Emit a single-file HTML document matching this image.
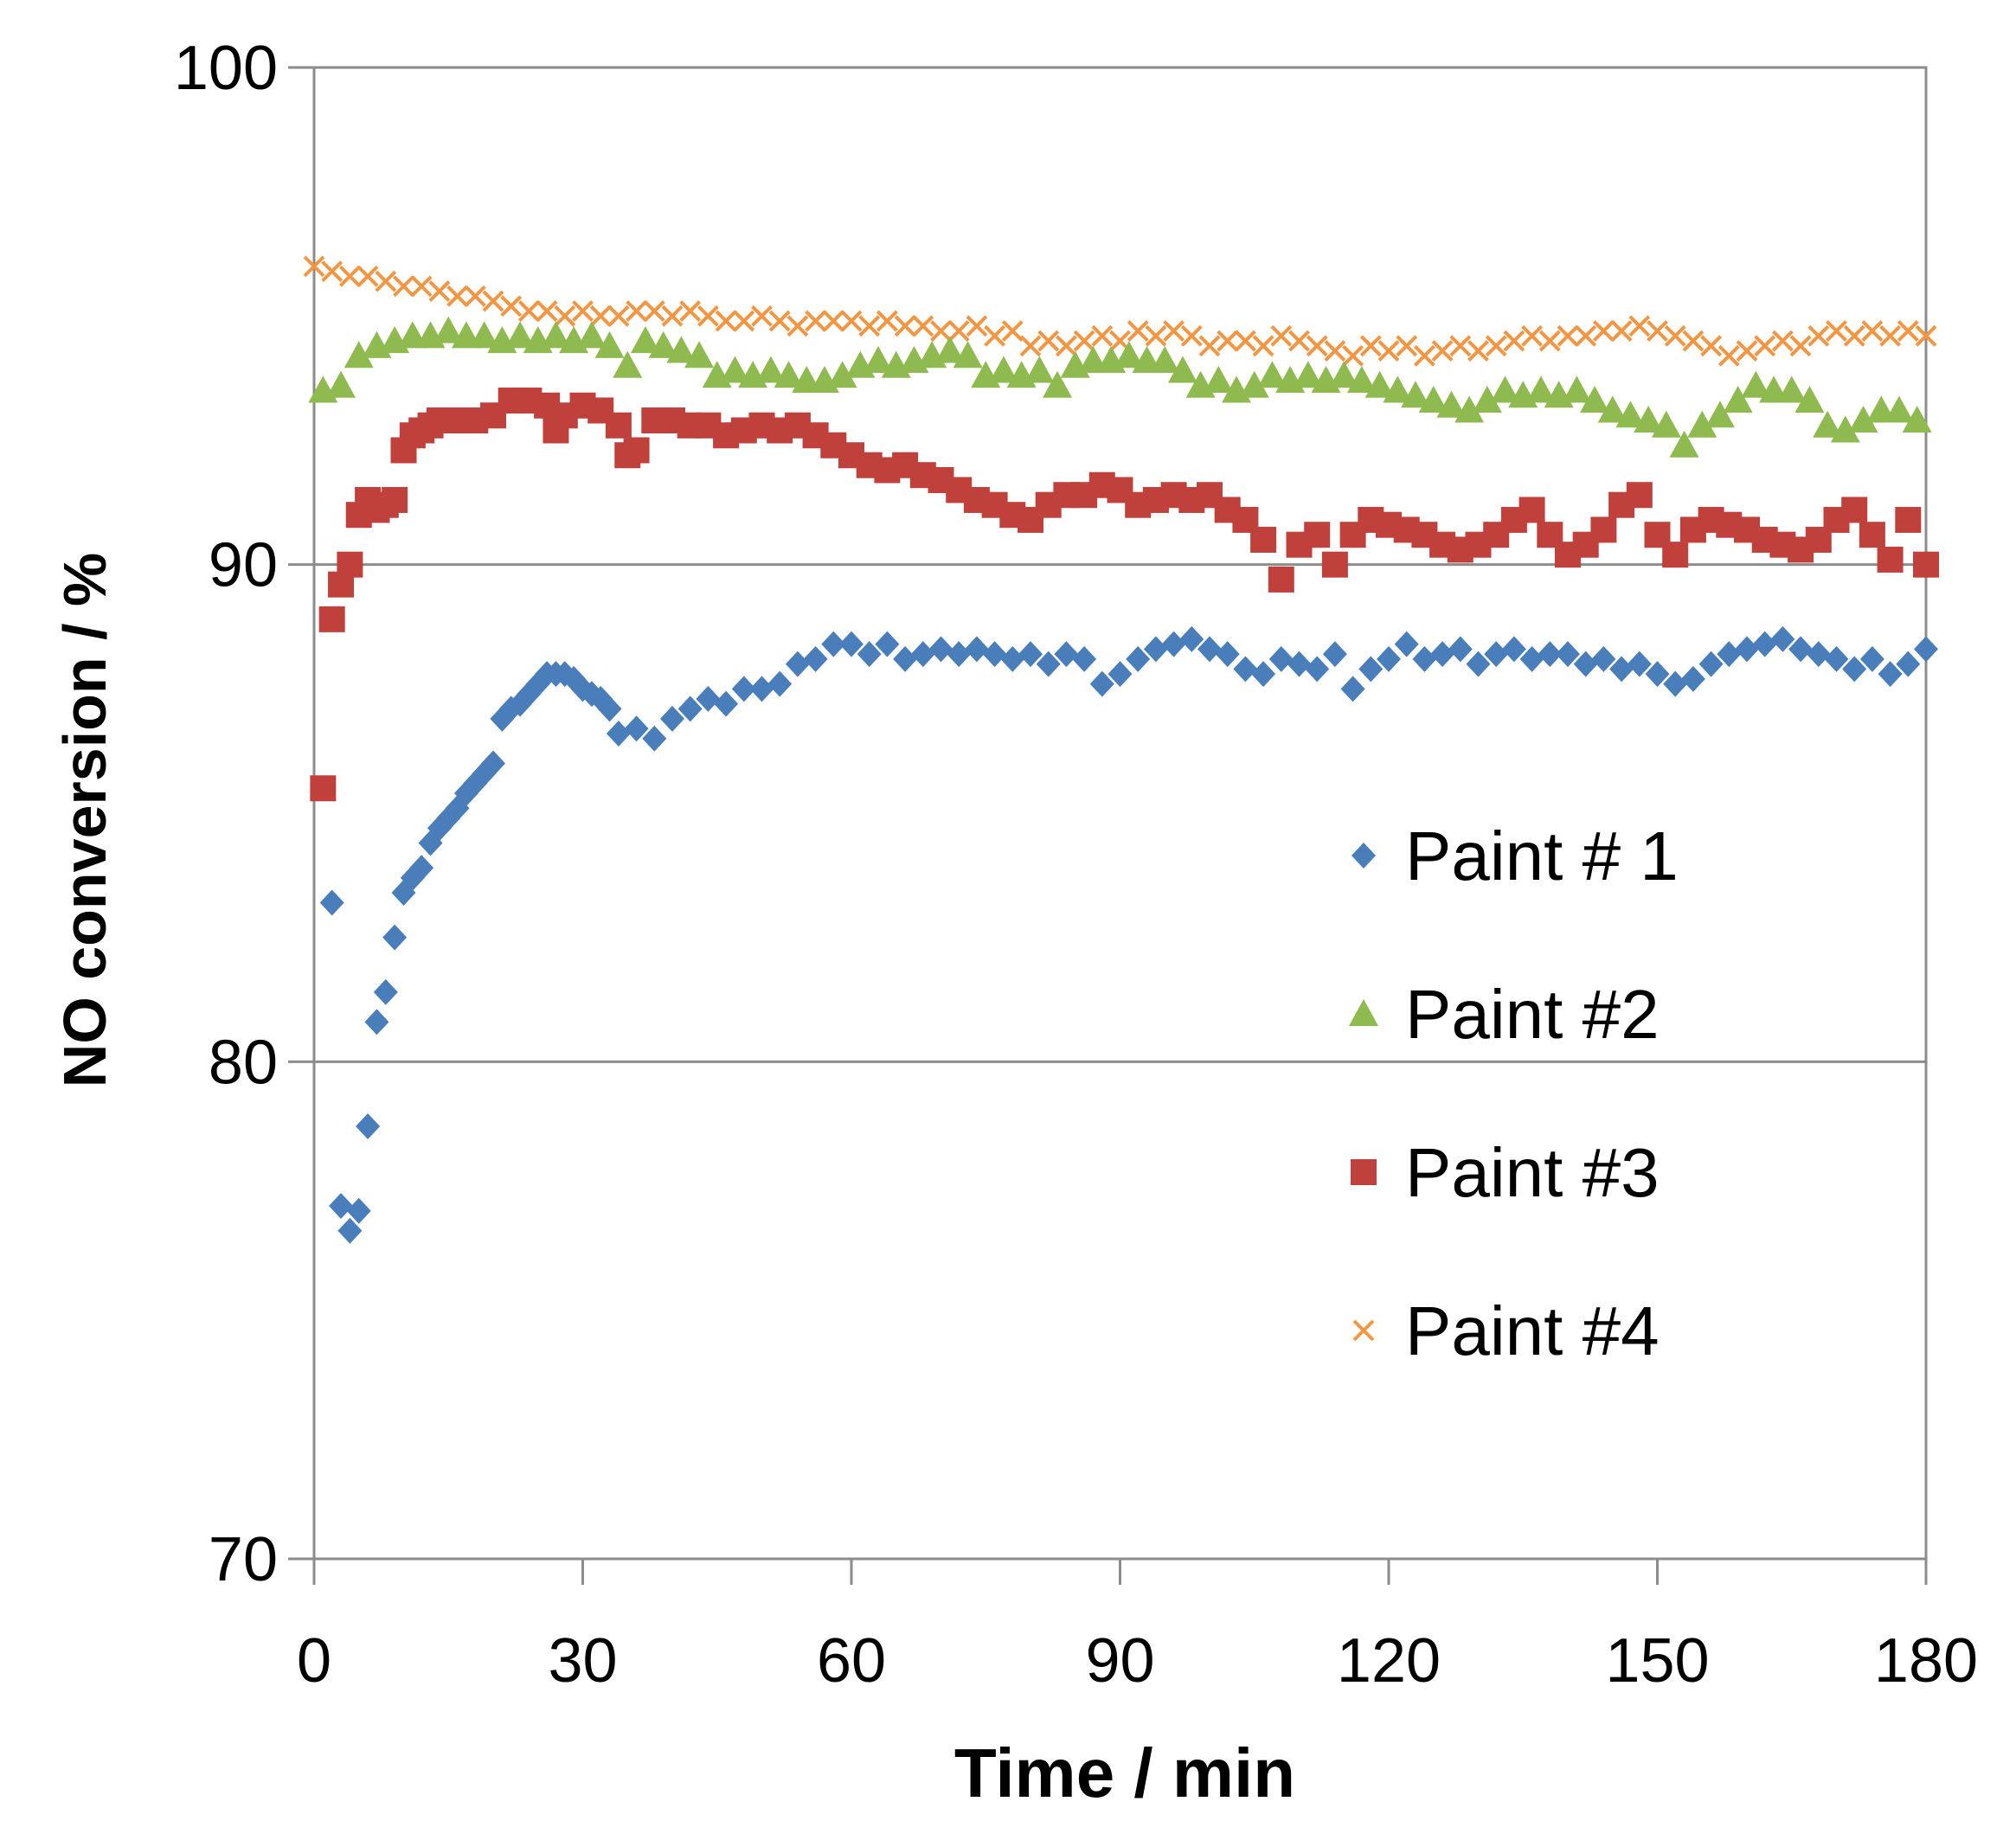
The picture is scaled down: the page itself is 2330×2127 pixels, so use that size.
<!DOCTYPE html>
<html><head><meta charset="utf-8">
<style>
html,body{margin:0;padding:0;background:#fff;}
svg{display:block;}
text{font-family:"Liberation Sans",sans-serif;fill:#000;}
</style></head>
<body>
<svg id="chart" width="2330" height="2127" viewBox="0 0 2330 2127" xmlns="http://www.w3.org/2000/svg">
<g id="grid"></g>
<g id="axes"></g>
<g id="marks"></g>
<text transform="translate(122,948) rotate(-90)" text-anchor="middle" font-size="70" font-weight="bold">NO conversion / %</text>
<text x="1300" y="2077" text-anchor="middle" font-size="80" font-weight="bold">Time / min</text>
<g id="legend"></g>
</svg>
<script>
const xTicks=[0,30,60,90,120,150,180];
const yTicks=[70,80,90,100];
const blueEarlyT=[2,3,4,5,6,7,8,9,10,11,12,13,14,15,16,17,18,19,20,21,22,23,24,25,26,27,28,29,30,31,32,33,34];
const blueEarlyV=[83.2,77.1,76.6,77.0,78.7,80.8,81.4,82.5,83.4,83.7,83.9,84.4,84.7,84.9,85.1,85.4,85.6,85.8,86.0,86.9,87.1,87.2,87.4,87.6,87.8,87.8,87.8,87.7,87.5,87.4,87.3,87.1,86.6];
const blueLateV=[86.7,86.5,86.9,87.1,87.3,87.2,87.5,87.5,87.6,88.0,88.1,88.4,88.4,88.2,88.4,88.1,88.2,88.3,88.2,88.3,88.2,88.1,88.2,88.0,88.2,88.1,87.6,87.8,88.1,88.3,88.4,88.5,88.3,88.2,87.9,87.8,88.1,88.0,87.9,88.2,87.5,87.9,88.1,88.4,88.1,88.2,88.3,88.0,88.2,88.3,88.1,88.2,88.2,88.0,88.1,87.9,88.0,87.8,87.6,87.7,88.0,88.2,88.3,88.4,88.5,88.3,88.2,88.1,87.9,88.1,87.8,88.0,88.3];
const greenV=[93.5,93.6,94.2,94.4,94.5,94.6,94.6,94.7,94.6,94.6,94.5,94.6,94.5,94.6,94.5,94.6,94.4,94.0,94.5,94.4,94.3,94.2,93.8,93.9,93.8,93.9,93.8,93.7,93.7,93.8,94.0,94.1,94.0,94.1,94.2,94.3,94.2,93.8,93.9,93.8,93.9,93.6,94.0,94.1,94.1,94.2,94.1,94.1,93.9,93.6,93.7,93.5,93.6,93.8,93.7,93.8,93.7,93.8,93.7,93.6,93.5,93.4,93.3,93.2,93.1,93.3,93.5,93.4,93.5,93.4,93.5,93.3,93.1,93.0,92.9,92.8,92.4,92.8,93.0,93.3,93.6,93.5,93.5,93.3,92.8,92.7,92.9,93.1,93.1,92.9];
const redEarlyT=[1,2,3,4,5,6,7,8,9,10,11,12,13,14,16,18,20,22,24,26,27,28,30,32,34,35,36];
const redEarlyV=[85.5,88.9,89.6,90.0,91.0,91.3,91.1,91.2,91.3,92.3,92.6,92.7,92.8,92.9,92.9,92.9,93.0,93.3,93.3,93.2,92.7,93.0,93.2,93.1,92.8,92.2,92.3];
const redLateV=[92.9,92.9,92.8,92.8,92.6,92.7,92.8,92.7,92.8,92.6,92.4,92.2,92.0,91.9,92.0,91.8,91.7,91.5,91.3,91.2,91.0,90.9,91.2,91.4,91.4,91.6,91.5,91.2,91.3,91.4,91.3,91.4,91.1,90.9,90.5,89.7,90.4,90.6,90.0,90.6,90.9,90.8,90.7,90.6,90.4,90.3,90.4,90.6,90.9,91.1,90.6,90.2,90.4,90.7,91.2,91.4,90.6,90.2,90.7,90.9,90.8,90.7,90.5,90.4,90.3,90.5,90.9,91.1,90.6,90.1,90.9,90.0];
const orangeV=[96.0,95.9,95.8,95.8,95.7,95.6,95.6,95.5,95.4,95.4,95.3,95.2,95.1,95.1,95.0,95.1,95.0,95.0,95.1,95.1,95.0,95.1,95.0,94.9,94.9,95.0,94.9,94.8,94.9,94.9,94.9,94.8,94.9,94.8,94.8,94.7,94.7,94.8,94.6,94.7,94.4,94.5,94.4,94.5,94.6,94.5,94.7,94.6,94.7,94.6,94.4,94.5,94.5,94.4,94.6,94.5,94.4,94.3,94.2,94.4,94.3,94.4,94.2,94.3,94.4,94.3,94.4,94.5,94.6,94.5,94.6,94.6,94.7,94.7,94.8,94.7,94.6,94.5,94.4,94.2,94.3,94.4,94.5,94.4,94.6,94.7,94.6,94.7,94.6,94.7,94.6];
const legendLabels=["Paint # 1","Paint #2","Paint #3","Paint #4"];

const X0=363,X1=2226,Y0=1802,Y1=78;
const xs=t=>X0+(t-0)/180*(X1-X0);
const ys=v=>Y0-(v-70)/30*(Y0-Y1);
const NS="http://www.w3.org/2000/svg";
function mk(tag,attrs,parent){const e=document.createElementNS(NS,tag);for(const k in attrs)e.setAttribute(k,attrs[k]);parent.appendChild(e);return e;}
const grid=document.getElementById('grid'),axes=document.getElementById('axes'),marks=document.getElementById('marks'),legend=document.getElementById('legend');

yTicks.forEach(v=>{
  const y=ys(v);
  if(v>70){const l=mk('line',{x1:X0,x2:X1,y1:y,y2:y,stroke:'#8c8c8c','stroke-width':3},grid);
  
  }
  const tk=mk('line',{x1:X0-30,x2:X0,y1:y,y2:y,stroke:'#8c8c8c','stroke-width':3},axes);
  
  
  const tx=mk('text',{x:X0-42,y:y+25,'text-anchor':'end','font-size':72},axes);tx.textContent=v;
  
  
});
const box=mk('rect',{x:X0,y:Y1,width:X1-X0,height:Y0-Y1,fill:'none',stroke:'#8c8c8c','stroke-width':3},axes);


xTicks.forEach(t=>{
  const x=xs(t);
  const tk=mk('line',{x1:x,x2:x,y1:Y0,y2:Y0+30,stroke:'#8c8c8c','stroke-width':3},axes);
  
  
  const tx=mk('text',{x:x,y:1944,'text-anchor':'middle','font-size':72},axes);tx.textContent=t;
  
  
});

function marker(kind,cx,cy,parent){
  let e;
  if(kind==='diamond'){e=mk('polygon',{points:`${cx},${cy-15} ${cx+14},${cy} ${cx},${cy+15} ${cx-14},${cy}`,fill:'#4a7ebb'},parent);}
  else if(kind==='tri'){e=mk('polygon',{points:`${cx},${cy-17} ${cx+17},${cy+14} ${cx-17},${cy+14}`,fill:'#8fba4f'},parent);}
  else if(kind==='sq'){e=mk('rect',{x:cx-15,y:cy-15,width:30,height:30,fill:'#c0403c'},parent);}
  else {e=mk('path',{d:`M${cx-11},${cy-11}L${cx+11},${cy+11}M${cx+11},${cy-11}L${cx-11},${cy+11}`,stroke:'#f29644','stroke-width':4,fill:'none'},parent);}
  return e;
}
function series(name,kind,T,V){
  const g=mk('g',{},marks);
  
  
  T.forEach((t,i)=>{const m=marker(kind,xs(t),ys(V[i]),g);
    
    });
}
const stepT=(start,n)=>Array.from({length:n},(_,i)=>start+2*i);
series('series-paint-4','x',stepT(0,orangeV.length),orangeV);
series('series-paint-2','tri',stepT(1,greenV.length),greenV);
series('series-paint-3','sq',redEarlyT.concat(stepT(38,redLateV.length)),redEarlyV.concat(redLateV));
series('series-paint-1','diamond',blueEarlyT.concat(stepT(36,blueLateV.length)),blueEarlyV.concat(blueLateV));

const kinds=['diamond','tri','sq','x'];
const ly=[989,1172,1355,1538];
legendLabels.forEach((lab,i)=>{
  const g=mk('g',{},legend);
  
  
  marker(kinds[i],1576,ly[i],g);
  const t=mk('text',{x:1624,y:ly[i]+28,'font-size':80},g);t.textContent=lab;
});
</script>
</body></html>
